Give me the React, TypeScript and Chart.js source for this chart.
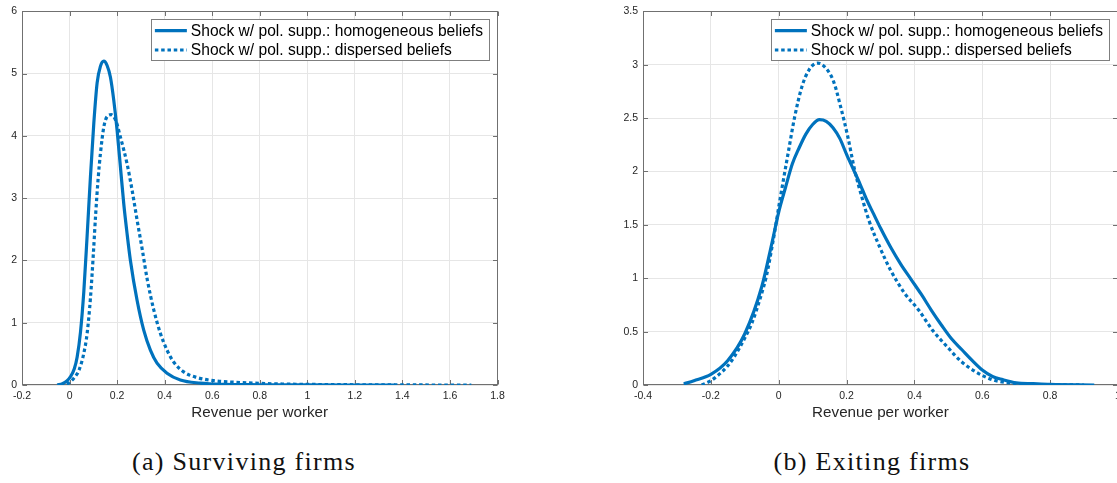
import React, { useEffect, useRef } from 'react';
import { Chart, registerables } from 'chart.js';

Chart.register(...registerables);

// ---------- text ----------
const LEGEND_LABELS = [
  'Shock w/ pol. supp.: homogeneous beliefs',
  'Shock w/ pol. supp.: dispersed beliefs',
];
const X_TITLE = 'Revenue per worker';
const CAPTION_A = '(a) Surviving firms';
const CAPTION_B = '(b) Exiting firms';

// ---------- panel (a): surviving firms ----------
const survHomX = [-0.052, -0.03, -0.01, 0.005, 0.02, 0.032, 0.046, 0.06, 0.074, 0.088, 0.102, 0.116, 0.13, 0.144, 0.158, 0.172, 0.186, 0.2, 0.214, 0.228, 0.242, 0.256, 0.284, 0.312, 0.34, 0.368, 0.41, 0.466, 0.55, 0.65, 0.8, 1.0, 1.2, 1.37];
const survHomY = [0, 0.02, 0.07, 0.14, 0.26, 0.45, 0.85, 1.5, 2.4, 3.35, 4.2, 4.85, 5.12, 5.2, 5.13, 4.94, 4.57, 4.09, 3.5, 2.91, 2.43, 2.0, 1.36, 0.88, 0.56, 0.35, 0.19, 0.08, 0.03, 0.01, 0.004, 0.001, 0, 0];

const survDispX = [-0.038, -0.02, -0.004, 0.018, 0.04, 0.06, 0.074, 0.088, 0.1, 0.11, 0.12, 0.13, 0.144, 0.158, 0.175, 0.194, 0.214, 0.242, 0.263, 0.284, 0.306, 0.327, 0.354, 0.382, 0.41, 0.438, 0.48, 0.536, 0.606, 0.718, 0.85, 1.0, 1.2, 1.4, 1.69];
const survDispY = [0, 0.01, 0.03, 0.11, 0.24, 0.51, 0.83, 1.4, 2.1, 2.75, 3.3, 3.72, 4.14, 4.31, 4.34, 4.25, 3.98, 3.55, 3.13, 2.65, 2.17, 1.69, 1.21, 0.83, 0.56, 0.37, 0.21, 0.12, 0.07, 0.04, 0.02, 0.01, 0.004, 0.001, 0];

const survXTicks = [-0.2, 0, 0.2, 0.4, 0.6, 0.8, 1, 1.2, 1.4, 1.6, 1.8];
const survYTicks = [0, 1, 2, 3, 4, 5, 6];

// ---------- panel (b): exiting firms ----------
const exitHomX = [-0.28, -0.25, -0.2, -0.15, -0.1, -0.05, -0.02, 0, 0.02, 0.04, 0.06, 0.08, 0.1, 0.12, 0.14, 0.16, 0.18, 0.2, 0.22, 0.24, 0.26, 0.28, 0.3, 0.33, 0.36, 0.39, 0.42, 0.45, 0.48, 0.51, 0.54, 0.57, 0.6, 0.63, 0.66, 0.7, 0.75, 0.8, 0.93];
const exitHomY = [0.01, 0.04, 0.1, 0.23, 0.48, 0.92, 1.33, 1.62, 1.85, 2.07, 2.22, 2.35, 2.44, 2.485, 2.47, 2.41, 2.31, 2.16, 2.02, 1.88, 1.73, 1.6, 1.47, 1.29, 1.13, 0.99, 0.85, 0.7, 0.56, 0.43, 0.33, 0.23, 0.14, 0.08, 0.05, 0.02, 0.012, 0.005, 0];

const exitDispX = [-0.227, -0.2, -0.183, -0.15, -0.131, -0.1, -0.079, -0.05, -0.037, -0.016, 0.005, 0.026, 0.047, 0.068, 0.089, 0.115, 0.141, 0.162, 0.183, 0.204, 0.224, 0.245, 0.266, 0.298, 0.329, 0.371, 0.413, 0.454, 0.496, 0.538, 0.58, 0.632, 0.695, 0.75, 0.9];
const exitDispY = [0, 0.04, 0.08, 0.18, 0.265, 0.44, 0.58, 0.86, 1.01, 1.36, 1.76, 2.14, 2.51, 2.79, 2.95, 3.015, 2.96, 2.84, 2.6, 2.32, 2.01, 1.76, 1.54, 1.29, 1.08, 0.86, 0.7, 0.51, 0.36, 0.22, 0.125, 0.047, 0.015, 0.005, 0];

const exitXTicks = [-0.4, -0.2, 0, 0.2, 0.4, 0.6, 0.8, 1];
const exitYTicks = [0, 0.5, 1, 1.5, 2, 2.5, 3, 3.5];

// ---------- style ----------
const BLUE = '#0072BD';
const AXIS_COLOR = '#262626';
const BOX_COLOR = '#707070';
const GRID_COLOR = '#e6e6e6';
const SANS = '"Liberation Sans", Arial, Helvetica, sans-serif';
const DOT_DASH = [3.5, 2.8];

const zip = (xs: number[], ys: number[]) => xs.map((x, i) => ({ x, y: ys[i] }));

const matlabBox = {
  id: 'matlabBox',
  beforeDatasetsDraw(chart: any) {
    const { ctx, chartArea: a, scales } = chart;
    ctx.save();
    ctx.strokeStyle = BOX_COLOR;
    ctx.lineWidth = 1;
    const L = Math.round(a.left) + 0.5;
    const R = Math.round(a.right) - 0.5;
    const T = Math.round(a.top) + 0.5;
    const B = Math.round(a.bottom) - 0.5;
    const tl = 4.5;
    ctx.beginPath();
    scales.x.ticks.forEach((t: any) => {
      const p = Math.round(scales.x.getPixelForValue(t.value)) + 0.5;
      ctx.moveTo(p, B); ctx.lineTo(p, B - tl);
      ctx.moveTo(p, T); ctx.lineTo(p, T + tl);
    });
    scales.y.ticks.forEach((t: any) => {
      const p = Math.round(scales.y.getPixelForValue(t.value)) + 0.5;
      ctx.moveTo(L, p); ctx.lineTo(L + tl, p);
      ctx.moveTo(R, p); ctx.lineTo(R - tl, p);
    });
    ctx.stroke();
    ctx.strokeRect(L, T, R - L, B - T);
    ctx.restore();
  },
  afterDatasetsDraw(chart: any) {
    const { ctx, chartArea: a } = chart;
    ctx.save();
    ctx.font = `15.6px ${SANS}`;
    const labels = chart.data.datasets.map((d: any) => d.label as string);
    const tw = Math.max(...labels.map((l: string) => ctx.measureText(l).width));
    const w = 40 + tw + 6;
    const h = 41;
    const right = Math.round(a.right - 8.7);
    const left = right - w;
    const top = Math.round(a.top + 8);
    ctx.fillStyle = '#ffffff';
    ctx.fillRect(left, top, w, h);
    ctx.strokeStyle = '#7f7f7f';
    ctx.lineWidth = 1;
    ctx.strokeRect(Math.round(left) + 0.5, top + 0.5, Math.round(w), h);
    const rows = [top + 11.7, top + 31];
    chart.data.datasets.forEach((d: any, i: number) => {
      const y = rows[i];
      ctx.beginPath();
      ctx.strokeStyle = d.borderColor;
      ctx.lineWidth = d.borderWidth;
      ctx.setLineDash(d.borderDash || []);
      ctx.moveTo(left + 4, y);
      ctx.lineTo(left + 36, y);
      ctx.stroke();
      ctx.setLineDash([]);
      ctx.fillStyle = '#000000';
      ctx.textBaseline = 'middle';
      ctx.textAlign = 'left';
      ctx.fillText(d.label, left + 40, y + 0.5);
    });
    ctx.restore();
  },
};

type PanelProps = {
  left: number;
  width: number;
  height: number;
  yAxisWidth: number;
  padRight: number;
  xTicks: number[];
  yTicks: number[];
  homX: number[];
  homY: number[];
  dispX: number[];
  dispY: number[];
};

function Panel(p: PanelProps) {
  const ref = useRef<HTMLCanvasElement | null>(null);
  useEffect(() => {
    if (!ref.current) return;
    const tickFont = { family: SANS, size: 10.5 };
    const chart = new Chart(ref.current, {
      type: 'line',
      data: {
        datasets: [
          {
            label: LEGEND_LABELS[0],
            data: zip(p.homX, p.homY),
            borderColor: BLUE,
            backgroundColor: BLUE,
            borderWidth: 3.2,
            pointRadius: 0,
            fill: false,
            cubicInterpolationMode: 'monotone',
            borderJoinStyle: 'round',
          },
          {
            label: LEGEND_LABELS[1],
            data: zip(p.dispX, p.dispY),
            borderColor: BLUE,
            backgroundColor: BLUE,
            borderWidth: 3.2,
            borderDash: DOT_DASH,
            pointRadius: 0,
            fill: false,
            cubicInterpolationMode: 'monotone',
          },
        ],
      } as any,
      options: {
        animation: false,
        responsive: false,
        maintainAspectRatio: false,
        events: [],
        layout: { padding: { left: 0, top: 11, right: p.padRight, bottom: 0 } },
        plugins: {
          legend: { display: false },
          tooltip: { enabled: false },
        },
        scales: {
          x: {
            type: 'linear',
            min: p.xTicks[0],
            max: p.xTicks[p.xTicks.length - 1],
            afterBuildTicks: (s: any) => { s.ticks = p.xTicks.map((v) => ({ value: v })); },
            afterFit: (s: any) => { s.height = 45; },
            grid: { color: GRID_COLOR, lineWidth: 1, drawTicks: false },
            border: { display: false },
            ticks: {
              padding: 4.4,
              color: AXIS_COLOR,
              font: tickFont,
              autoSkip: false,
              maxRotation: 0,
              callback: (v: any) => String(v),
            },
            title: {
              display: true,
              text: X_TITLE,
              color: AXIS_COLOR,
              font: { family: SANS, size: 15.2 },
              padding: { top: 0, bottom: 8.4 },
            },
          },
          y: {
            type: 'linear',
            min: p.yTicks[0],
            max: p.yTicks[p.yTicks.length - 1],
            afterBuildTicks: (s: any) => { s.ticks = p.yTicks.map((v) => ({ value: v })); },
            afterFit: (s: any) => { s.width = p.yAxisWidth; },
            grid: { color: GRID_COLOR, lineWidth: 1, drawTicks: false },
            border: { display: false },
            ticks: {
              padding: 5,
              color: AXIS_COLOR,
              font: tickFont,
              autoSkip: false,
              callback: (v: any) => String(v),
            },
          },
        },
      } as any,
      plugins: [matlabBox as any],
    });
    return () => chart.destroy();
  }, []);
  return (
    <canvas
      ref={ref}
      width={p.width}
      height={p.height}
      style={{ position: 'absolute', left: p.left, top: 0, width: p.width, height: p.height, display: 'block' }}
    />
  );
}

const captionStyle = (center: number): React.CSSProperties => ({
  position: 'absolute',
  left: center - 200,
  width: 400,
  top: 447,
  textAlign: 'center',
  fontFamily: '"Liberation Serif", "Times New Roman", serif',
  fontSize: 26,
  letterSpacing: 1.3,
  color: '#111',
  whiteSpace: 'nowrap',
});

export default function App() {
  return (
    <div
      style={{
        position: 'absolute',
        left: 0,
        top: 0,
        width: 1117,
        height: 483,
        overflow: 'hidden',
        background: '#ffffff',
      }}
    >
      <Panel
        left={0}
        width={560}
        height={430}
        yAxisWidth={22}
        padRight={62.5}
        xTicks={survXTicks}
        yTicks={survYTicks}
        homX={survHomX}
        homY={survHomY}
        dispX={survDispX}
        dispY={survDispY}
      />
      <Panel
        left={560}
        width={580}
        height={430}
        yAxisWidth={83}
        padRight={22}
        xTicks={exitXTicks}
        yTicks={exitYTicks}
        homX={exitHomX}
        homY={exitHomY}
        dispX={exitDispX}
        dispY={exitDispY}
      />
      <div style={captionStyle(244)}>{CAPTION_A}</div>
      <div style={captionStyle(872)}>{CAPTION_B}</div>
    </div>
  );
}
